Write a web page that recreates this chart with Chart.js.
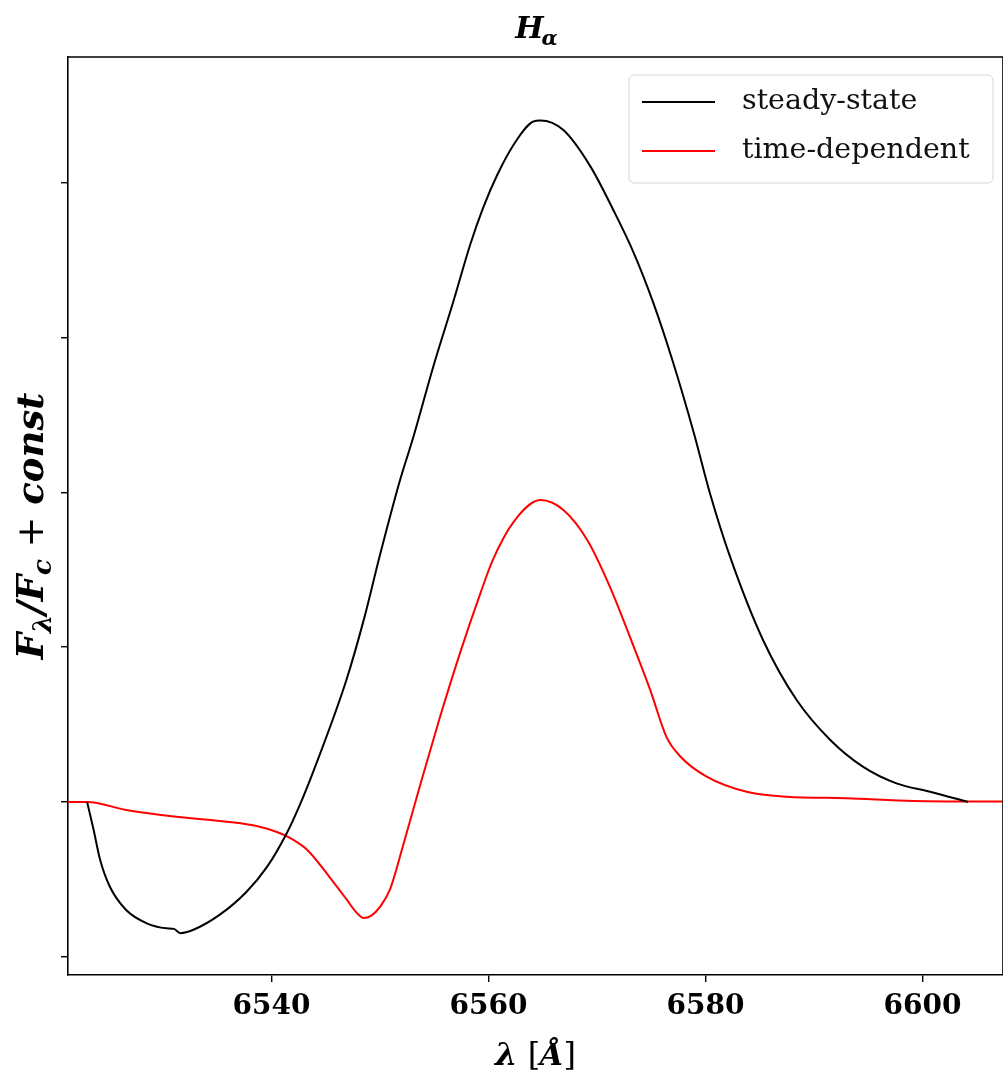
<!DOCTYPE html>
<html><head><meta charset="utf-8">
<script src="https://cdn.jsdelivr.net/npm/chart.js@4.4.1/dist/chart.umd.min.js"></script>
<style>html,body{margin:0;padding:0;background:#fff;overflow:hidden}#wrap{width:1003px;height:1075px;position:relative}</style>
</head><body><div id="wrap"><canvas id="c" width="1003" height="1075"></canvas></div>
<script>
// wavelength (Angstrom) and normalised flux, steady-state model
const lamSteady = [6523.0, 6523.6, 6524.2, 6525.1, 6526.6, 6528.5, 6530.3, 6531.0, 6531.6, 6532.8, 6535.2, 6537.7, 6539.6, 6541.4, 6542.6, 6543.9, 6546.9, 6548.5, 6550.0, 6551.8, 6553.1, 6554.9, 6556.8, 6558.3, 6559.5, 6560.8, 6562.3, 6564.1, 6564.8, 6566.9, 6569.4, 6571.5, 6573.4, 6575.2, 6577.0, 6578.9, 6580.4, 6582.3, 6585.3, 6588.4, 6591.5, 6594.5, 6597.6, 6600.7, 6604.2];
const fluxSteady = [1.0, 0.91, 0.813, 0.726, 0.651, 0.608, 0.592, 0.590, 0.576, 0.587, 0.635, 0.710, 0.791, 0.899, 0.990, 1.103, 1.394, 1.588, 1.798, 2.034, 2.182, 2.405, 2.621, 2.799, 2.919, 3.025, 3.122, 3.197, 3.201, 3.170, 3.052, 2.912, 2.772, 2.611, 2.421, 2.195, 1.998, 1.788, 1.523, 1.329, 1.200, 1.114, 1.060, 1.033, 1.0];
// time-dependent model
const lamTime = [6521.24, 6523.0, 6526.6, 6531.0, 6535.9, 6538.9, 6540.5, 6541.7, 6543.3, 6545.4, 6546.9, 6547.7, 6548.5, 6549.2, 6550.0, 6550.9, 6552.1, 6553.7, 6555.5, 6557.4, 6559.2, 6560.4, 6562.3, 6564.8, 6566.9, 6569.1, 6571.2, 6573.0, 6574.9, 6576.4, 6577.7, 6580.1, 6583.8, 6587.5, 6593.0, 6599.2, 6607.4];
const fluxTime = [1.0, 1.0, 0.974, 0.953, 0.936, 0.920, 0.903, 0.884, 0.845, 0.755, 0.686, 0.648, 0.625, 0.633, 0.661, 0.716, 0.856, 1.055, 1.271, 1.484, 1.669, 1.782, 1.904, 1.975, 1.943, 1.846, 1.694, 1.536, 1.362, 1.210, 1.146, 1.082, 1.033, 1.017, 1.012, 1.003, 1.001];
const seriesNames = ['steady-state', 'time-dependent'];
const xTicks = [6540, 6560, 6580, 6600];
const yTicks = [0.5, 1.0, 1.5, 2.0, 2.5, 3.0];
const xRange = [6521.24, 6607.42];
const yRange = [0.441, 3.406];

const toXY = (xs, ys) => xs.map((x, i) => ({x: x, y: ys[i]}));

const decorPlugin = {
  id: 'decor',
  afterDraw(chart) {
    const ctx = chart.ctx, a = chart.chartArea;
    ctx.save();
    // frame top/right
    ctx.strokeStyle = '#000'; ctx.lineWidth = 1.6;
    ctx.beginPath();
    ctx.moveTo(a.left, a.top); ctx.lineTo(a.right, a.top); ctx.lineTo(a.right, a.bottom);
    ctx.stroke();

    // title H_alpha
    const cx = (a.left + a.right) / 2;
    ctx.fillStyle = '#000';
    ctx.textBaseline = 'alphabetic';
    const fH = 'italic bold 30px "DejaVu Serif"', fa = 'italic bold 21px "DejaVu Serif"';
    ctx.font = fH; const wH = ctx.measureText('H').width;
    ctx.font = fa; const wa = ctx.measureText('α').width;
    let x0 = cx - (wH + wa) / 2 + 2;
    ctx.font = fH; ctx.textAlign = 'left'; ctx.fillText('H', x0, 38);
    ctx.font = fa; ctx.fillText('α', x0 + wH - 2, 45);

    // y label
    const parts = [
      ['F', 'italic bold 37px "DejaVu Serif"', 0],
      ['λ', 'italic bold 26px "DejaVu Serif"', 8],
      ['/', 'italic bold 37px "DejaVu Serif"', 0],
      ['F', 'italic bold 37px "DejaVu Serif"', 0],
      ['c', 'italic bold 26px "DejaVu Serif"', 8],
      [' + ', '37px "DejaVu Serif"', 0],
      ['const', 'italic bold 37px "DejaVu Serif"', 0]
    ];
    let tot = 0;
    parts.forEach(p => { ctx.font = p[1]; p.push(ctx.measureText(p[0]).width); tot += p[3]; });
    ctx.save();
    ctx.translate(43, 526);
    ctx.rotate(-Math.PI / 2);
    let px = -tot / 2;
    parts.forEach(p => { ctx.font = p[1]; ctx.fillText(p[0], px, p[2]); px += p[3]; });
    ctx.restore();

    // x label
    const xparts = [
      ['λ', 'italic bold 32px "DejaVu Serif"'],
      [' [', '32px "DejaVu Serif"'],
      ['Å', 'italic bold 30px "DejaVu Serif"'],
      [']', '32px "DejaVu Serif"']
    ];
    tot = 0;
    xparts.forEach(p => { ctx.font = p[1]; p.push(ctx.measureText(p[0]).width); tot += p[2]; });
    px = cx - tot / 2;
    xparts.forEach(p => { ctx.font = p[1]; ctx.fillText(p[0], px, 1065); px += p[2]; });

    // legend
    const lx = 629, ly = 75, lw = 364, lh = 108, r = 6;
    ctx.beginPath();
    ctx.moveTo(lx + r, ly); ctx.lineTo(lx + lw - r, ly); ctx.quadraticCurveTo(lx + lw, ly, lx + lw, ly + r);
    ctx.lineTo(lx + lw, ly + lh - r); ctx.quadraticCurveTo(lx + lw, ly + lh, lx + lw - r, ly + lh);
    ctx.lineTo(lx + r, ly + lh); ctx.quadraticCurveTo(lx, ly + lh, lx, ly + lh - r);
    ctx.lineTo(lx, ly + r); ctx.quadraticCurveTo(lx, ly, lx + r, ly);
    ctx.closePath();
    ctx.fillStyle = 'rgba(255,255,255,0.8)'; ctx.fill();
    ctx.strokeStyle = '#d6d6d6'; ctx.lineWidth = 1; ctx.stroke();
    chart.data.datasets.forEach((ds, i) => {
      const yy = 102 + i * 49;
      ctx.strokeStyle = ds.borderColor; ctx.lineWidth = 2;
      ctx.beginPath(); ctx.moveTo(642, yy); ctx.lineTo(715, yy); ctx.stroke();
      ctx.fillStyle = '#111'; ctx.font = '28.5px "DejaVu Serif"'; ctx.textBaseline = 'middle';
      ctx.fillText(ds.label, 742, yy);
    });
    ctx.restore();
  }
};

new Chart(document.getElementById('c'), {
  type: 'line',
  data: {
    datasets: [
      {label: seriesNames[0], data: toXY(lamSteady, fluxSteady), borderColor: '#000000', borderWidth: 2, pointRadius: 0, cubicInterpolationMode: 'monotone', fill: false},
      {label: seriesNames[1], data: toXY(lamTime, fluxTime), borderColor: '#ff0000', borderWidth: 2, pointRadius: 0, cubicInterpolationMode: 'monotone', fill: false}
    ]
  },
  options: {
    responsive: false, animation: false, devicePixelRatio: 1,
    layout: {padding: {top: 57, left: 0, right: 0, bottom: 0}},
    plugins: {legend: {display: false}, tooltip: {enabled: false}, title: {display: false}},
    scales: {
      x: {
        type: 'linear', min: xRange[0], max: xRange[1],
        afterBuildTicks: s => { s.ticks = xTicks.map(v => ({value: v})); },
        afterFit: s => { s.height = 100; },
        ticks: {color: '#000', font: {family: 'DejaVu Serif', weight: 'bold', size: 28}, padding: 8, maxRotation: 0, autoSkip: false, callback: v => String(v)},
        grid: {drawOnChartArea: false, drawTicks: true, tickLength: 7, color: '#000', lineWidth: 1.4},
        border: {display: true, color: '#000', width: 1.6}
      },
      y: {
        type: 'linear', min: yRange[0], max: yRange[1],
        afterBuildTicks: s => { s.ticks = yTicks.map(v => ({value: v})); },
        afterFit: s => { s.width = 68; },
        ticks: {callback: () => '', padding: 0},
        grid: {drawOnChartArea: false, drawTicks: true, tickLength: 7, color: '#000', lineWidth: 1.4},
        border: {display: true, color: '#000', width: 1.6}
      }
    }
  },
  plugins: [decorPlugin]
});
</script></body></html>
